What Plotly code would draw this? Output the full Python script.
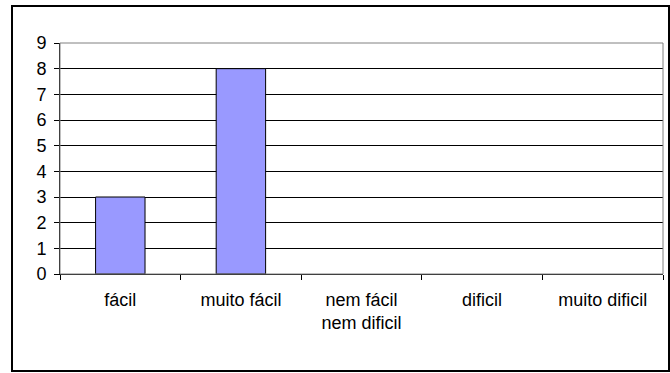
import plotly.graph_objects as go

categories = ["fácil", "muito fácil", "nem fácil<br>nem dificil", "dificil", "muito dificil"]
values = [3, 8, 0, 0, 0]
y_ticks = [0, 1, 2, 3, 4, 5, 6, 7, 8, 9]

W, H = 670, 373
L, R, T, B = 60, 7, 43, 99
pw, ph = W - L - R, H - T - B

def px(x):
    return (x - L) / pw

def py(y):
    return (H - B - y) / ph

fig = go.Figure(go.Bar(
    x=categories, y=values, width=0.41,
    marker=dict(color="#9999FF",
                line=dict(color="black", width=[1 if v > 0 else 0 for v in values])),
))

yfont = dict(family="Liberation Sans, Arial, sans-serif", size=18, color="black")
xfont = dict(family="Liberation Sans, Arial, sans-serif", size=18, color="black")

fig.update_layout(
    width=W, height=H,
    margin=dict(l=L, r=R, t=T, b=B),
    paper_bgcolor="white", plot_bgcolor="white",
    showlegend=False,
    font=yfont,
    xaxis=dict(
        type="category", tickson="boundaries", ticks="outside", ticklen=5,
        tickcolor="black", showline=True, linecolor="black", linewidth=1,
        showgrid=False, ticklabelstandoff=9, tickfont=xfont,
    ),
    yaxis=dict(
        range=[0, 9], tickvals=y_ticks, ticks="outside", ticklen=5,
        tickcolor="black", showline=True, linecolor="black", linewidth=1,
        showgrid=True, gridcolor="black", gridwidth=1, zeroline=False,
        tickfont=yfont, ticklabelstandoff=4,
    ),
    shapes=[
        dict(type="rect", xref="paper", yref="paper",
             x0=0, x1=1, y0=0, y1=1,
             line=dict(color="#808080", width=1), layer="above"),
        dict(type="rect", xref="paper", yref="paper",
             x0=px(12), x1=px(669), y0=py(6), y1=py(371),
             line=dict(color="black", width=2), layer="below"),
    ],
)

fig.write_html("out.html")
